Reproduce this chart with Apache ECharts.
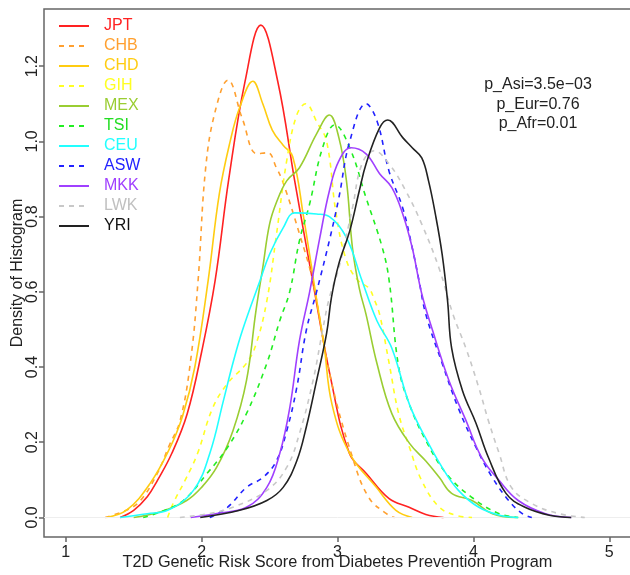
<!DOCTYPE html>
<html>
<head>
<meta charset="utf-8">
<script src="https://cdn.jsdelivr.net/npm/echarts@6/dist/echarts.min.js"></script>
<style>html,body{margin:0;padding:0;background:#fff}#c{width:630px;height:575px}</style>
</head>
<body>
<div id="c"></div>
<script>
// Population names (legend order)
const populations = ['JPT','CHB','CHD','GIH','MEX','TSI','CEU','ASW','MKK','LWK','YRI'];
const xTicks = [1, 2, 3, 4, 5];
const yTicks = [0, 0.2, 0.4, 0.6, 0.8, 1.0, 1.2];
const pValueLabels = ['p_Asi=3.5e\u221203', 'p_Eur=0.76', 'p_Afr=0.01'];

// Density curves: [score, density]
const JPT = [[1.40,0],[1.50,0.019],[1.60,0.055],[1.674,0.098],[1.78,0.17],[1.894,0.276],[2.00,0.44],[2.099,0.629],[2.20,0.90],[2.32,1.16],[2.436,1.309],[2.56,1.16],[2.685,0.895],[2.817,0.629],[2.95,0.37],[3.088,0.17],[3.212,0.117],[3.38,0.05],[3.527,0.027],[3.65,0.008],[3.78,0]];
const CHB = [[1.29,0],[1.45,0.02],[1.55,0.045],[1.674,0.117],[1.76,0.19],[1.842,0.258],[1.92,0.42],[1.974,0.63],[2.03,0.93],[2.10,1.08],[2.194,1.163],[2.30,1.06],[2.407,0.967],[2.487,0.97],[2.55,0.93],[2.60,0.89],[2.72,0.754],[2.817,0.63],[2.95,0.37],[3.11,0.16],[3.23,0.053],[3.36,0.01],[3.42,0]];
const CHD = [[1.30,0],[1.45,0.02],[1.62,0.09],[1.76,0.18],[1.86,0.27],[1.95,0.40],[2.048,0.63],[2.13,0.86],[2.21,1.00],[2.28,1.09],[2.377,1.16],[2.45,1.10],[2.52,1.03],[2.60,0.99],[2.67,0.96],[2.75,0.80],[2.846,0.58],[2.90,0.46],[2.96,0.30],[3.09,0.17],[3.286,0.08],[3.43,0.019],[3.55,0]];
const GIH = [[1.75,0],[1.79,0.037],[1.88,0.10],[1.97,0.17],[2.08,0.29],[2.19,0.356],[2.33,0.41],[2.40,0.46],[2.48,0.576],[2.55,0.75],[2.626,0.948],[2.70,1.07],[2.766,1.10],[2.85,1.05],[2.92,1.00],[2.99,0.807],[3.066,0.683],[3.15,0.63],[3.23,0.61],[3.27,0.58],[3.31,0.54],[3.38,0.41],[3.45,0.276],[3.53,0.186],[3.62,0.098],[3.75,0.027],[3.88,0.005],[3.99,0]];
const MEX = [[1.50,0],[1.70,0.015],[1.89,0.045],[2.00,0.08],[2.11,0.133],[2.23,0.23],[2.33,0.364],[2.40,0.55],[2.45,0.664],[2.50,0.78],[2.553,0.84],[2.626,0.895],[2.72,0.93],[2.846,1.02],[2.94,1.07],[3.01,1.01],[3.066,0.895],[3.11,0.717],[3.16,0.61],[3.21,0.54],[3.29,0.41],[3.40,0.276],[3.53,0.197],[3.65,0.15],[3.75,0.106],[3.84,0.064],[3.99,0.045],[4.14,0.01],[4.31,0]];
const TSI = [[1.57,0],[1.70,0.015],[1.865,0.045],[2.04,0.117],[2.19,0.186],[2.33,0.276],[2.48,0.41],[2.575,0.523],[2.648,0.60],[2.72,0.736],[2.795,0.834],[2.89,0.983],[2.98,1.044],[3.09,0.983],[3.21,0.85],[3.33,0.717],[3.38,0.63],[3.45,0.40],[3.53,0.30],[3.65,0.205],[3.80,0.117],[3.99,0.053],[4.19,0.01],[4.33,0]];
const CEU = [[1.40,0],[1.60,0.01],[1.75,0.019],[1.94,0.072],[2.06,0.17],[2.16,0.31],[2.23,0.41],[2.30,0.497],[2.43,0.63],[2.50,0.70],[2.60,0.77],[2.685,0.81],[2.846,0.807],[2.94,0.80],[3.066,0.744],[3.18,0.63],[3.29,0.523],[3.40,0.45],[3.53,0.30],[3.65,0.21],[3.77,0.133],[3.89,0.072],[4.04,0.027],[4.20,0.005],[4.33,0]];
const ASW = [[2.06,0],[2.19,0.027],[2.33,0.08],[2.45,0.106],[2.55,0.15],[2.626,0.23],[2.70,0.345],[2.77,0.497],[2.846,0.60],[2.94,0.736],[3.01,0.85],[3.09,1.00],[3.21,1.10],[3.29,1.055],[3.38,0.92],[3.48,0.823],[3.55,0.717],[3.60,0.63],[3.65,0.54],[3.77,0.41],[3.89,0.29],[4.02,0.186],[4.14,0.106],[4.26,0.045],[4.36,0.01],[4.43,0]];
const MKK = [[1.92,0],[2.10,0.01],[2.33,0.027],[2.48,0.08],[2.575,0.17],[2.648,0.29],[2.72,0.47],[2.795,0.60],[2.87,0.744],[2.94,0.868],[3.01,0.948],[3.10,0.983],[3.21,0.967],[3.31,0.914],[3.40,0.877],[3.48,0.807],[3.55,0.717],[3.62,0.595],[3.70,0.497],[3.82,0.364],[3.945,0.258],[4.06,0.16],[4.19,0.098],[4.33,0.045],[4.53,0.01],[4.72,0]];
const LWK = [[1.84,0],[2.05,0.01],[2.23,0.027],[2.48,0.072],[2.626,0.133],[2.72,0.223],[2.82,0.364],[2.89,0.497],[2.94,0.584],[3.01,0.664],[3.11,0.823],[3.18,0.94],[3.27,0.975],[3.38,0.94],[3.50,0.87],[3.62,0.78],[3.75,0.66],[3.85,0.54],[3.945,0.45],[4.04,0.345],[4.11,0.258],[4.19,0.17],[4.28,0.08],[4.43,0.037],[4.63,0.01],[4.82,0]];
const YRI = [[1.99,0],[2.28,0.019],[2.48,0.045],[2.60,0.08],[2.70,0.15],[2.77,0.24],[2.846,0.364],[2.92,0.49],[2.955,0.584],[3.01,0.675],[3.09,0.762],[3.16,0.868],[3.21,0.94],[3.31,1.036],[3.37,1.057],[3.48,1.01],[3.55,0.983],[3.62,0.956],[3.67,0.895],[3.72,0.807],[3.77,0.70],[3.81,0.576],[3.84,0.45],[3.92,0.337],[4.02,0.25],[4.11,0.16],[4.24,0.064],[4.38,0.027],[4.57,0.005],[4.72,0]];

const curves = [JPT, CHB, CHD, GIH, MEX, TSI, CEU, ASW, MKK, LWK, YRI];
const colors = ['#FF2222','#FFA030','#FFCC11','#FFFF22','#9ACD32','#22EE22','#22FFFF','#2222FF','#A040FF','#C8C8C8','#222222'];
const textColors = ['#FF2222','#FFA030','#FFCC11','#FFFF22','#9ACD32','#22DD22','#22FFFF','#2222FF','#A040FF','#C0C0C0','#111111'];
const dashed = [false,true,false,true,false,true,false,true,false,true,false];

const FONT = '"Liberation Sans", Arial, Helvetica, sans-serif';
const chart = echarts.init(document.getElementById('c'), null, {renderer: 'canvas'});

const series = populations.map((name, i) => {
  const s = {
    name: name,
    type: 'line',
    data: curves[i],
    smooth: 0.4,
    showSymbol: false,
    symbol: 'none',
    lineStyle: {color: colors[i], width: 1.6, type: dashed[i] ? [5, 5] : 'solid'},
    itemStyle: {color: colors[i]},
    z: 2 + i
  };
  if (i === 0) {
    s.markLine = {
      silent: true, symbol: 'none', label: {show: false},
      lineStyle: {color: '#eeeeee', width: 1, type: 'solid'},
      data: [{yAxis: 0}]
    };
  }
  return s;
});

chart.setOption({
  animation: false,
  backgroundColor: '#ffffff',
  textStyle: {fontFamily: FONT},
  grid: {left: 44, top: 9, right: -1, bottom: 38, show: true, borderColor: '#666', borderWidth: 1.5,
    backgroundColor: 'transparent', containLabel: false, outerBoundsMode: 'none'},
  legend: {
    left: 58, top: 18, padding: 0, orient: 'vertical',
    itemWidth: 30, itemHeight: 14, itemGap: 4,
    selectedMode: false,
    itemStyle: {opacity: 0, borderWidth: 0},
    textStyle: {fontSize: 16, fontFamily: FONT, padding: [0, 0, 0, 10]},
    data: populations.map((n, i) => ({name: n, textStyle: {color: textColors[i]}}))
  },
  xAxis: {
    type: 'value', min: 0.84, max: 5.16,
    name: 'T2D Genetic Risk Score from Diabetes Prevention Program',
    nameLocation: 'middle', nameGap: 18, nameMoveOverlap: false,
    nameTextStyle: {fontSize: 16.3, color: '#222', fontFamily: FONT},
    axisLine: {show: false, onZero: false},
    splitLine: {show: false},
    axisTick: {show: true, length: 5, lineStyle: {color: '#666', width: 1.5}, customValues: xTicks},
    axisLabel: {fontSize: 16, color: '#222', margin: 8, customValues: xTicks, fontFamily: FONT}
  },
  yAxis: {
    type: 'value', min: -0.052, max: 1.352,
    name: 'Density of Histogram',
    nameLocation: 'middle', nameGap: 18, nameRotate: 90, nameMoveOverlap: false,
    nameTextStyle: {fontSize: 16, color: '#222', fontFamily: FONT},
    axisLine: {show: false, onZero: false},
    splitLine: {show: false},
    axisTick: {show: true, length: 5, lineStyle: {color: '#666', width: 1.5}, customValues: yTicks},
    axisLabel: {fontSize: 16, color: '#222', margin: 3, rotate: 90, customValues: yTicks,
      formatter: v => Number(v).toFixed(1), fontFamily: FONT}
  },
  graphic: pValueLabels.map((t, i) => ({
    type: 'text', x: 538, y: 85 + i * 19.5,
    style: {text: t, fill: '#222', font: '16px ' + FONT, textAlign: 'center', textVerticalAlign: 'middle'}
  })),
  series: series
});
</script>
</body>
</html>
